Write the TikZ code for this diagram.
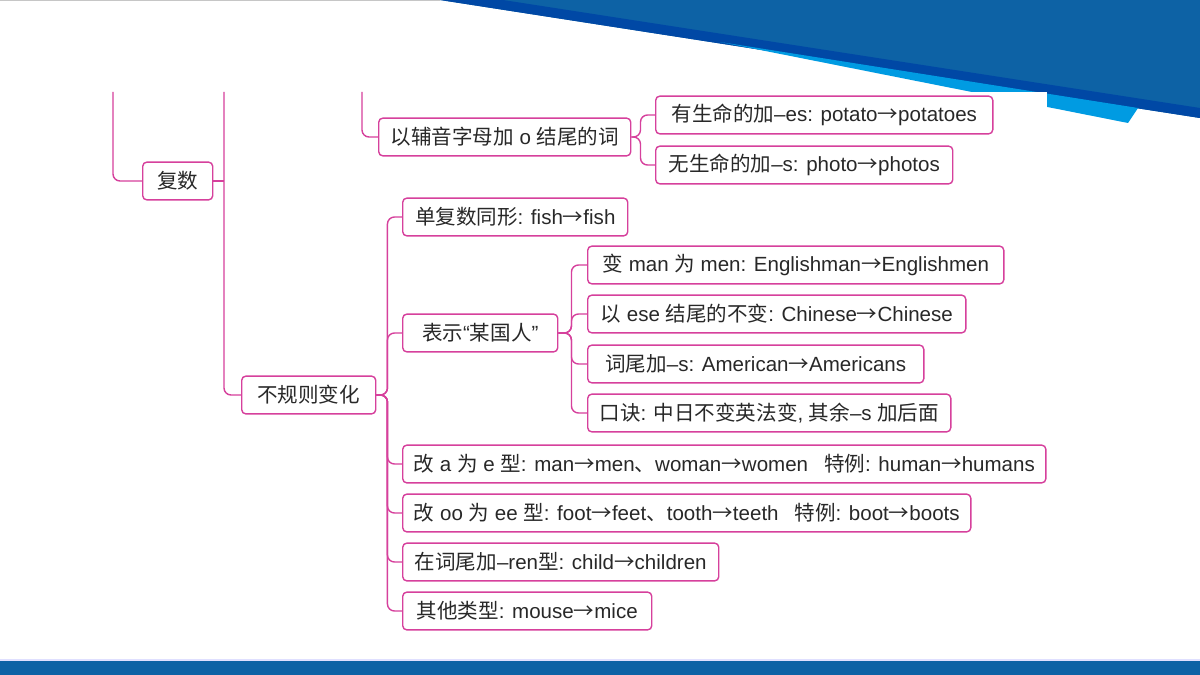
\documentclass[tikz,border=0pt]{standalone}
\usepackage{fontspec}
\setmainfont{Liberation Sans}
\newfontfamily\zh{Noto Sans CJK SC}
\newcommand\ar{{\zh →}}
\definecolor{rose}{RGB}{214,64,156}
\definecolor{deepblue}{RGB}{13,98,165}
\definecolor{stripeblue}{RGB}{0,72,165}
\definecolor{skyblue}{RGB}{0,155,226}
\definecolor{ink}{RGB}{40,40,40}
\begin{document}
\begin{tikzpicture}[x=0.025cm, y=-0.025cm,
  box/.style={draw=rose, line width=1pt, rounded corners=3pt, fill=white, anchor=west,
    text=ink, inner xsep=0pt, inner ysep=0pt, minimum height=26.9pt,
    font=\fontsize{14.6}{18}\selectfont},
  wd/.style={minimum width=#1*0.7113pt},
  link/.style={draw=rose, line width=1pt, rounded corners=5pt}]
\useasboundingbox (0,0) rectangle (1200,675);
\fill[white] (0,0) rectangle (1200,675);
\fill[deepblue] (440,0) -- (1200,0) -- (1200,118) -- cycle;
\fill[stripeblue] (440,0) -- (1200,118) -- (1200,108) -- (503,0) -- cycle;
\fill[skyblue] (720,42) -- (1138,108) -- (1128,123) -- cycle;
\fill[white] (440,92) rectangle (1047,140);
\draw[gray!45, line width=1pt] (0,0.7) -- (440,0.7);
\fill[deepblue] (0,661) rectangle (1200,675);
\draw[blue!12, line width=0.8pt] (0,660) -- (1200,660);

\node[box, wd=70] (fs) at (142,181) {\zh 复数};
\node[box, wd=252] (fuyin) at (378,137) {{\zh 以辅音字母加} o {\zh 结尾的词}};
\node[box, wd=337] (pot) at (655,115) {{\zh 有生命的加}--es: potato\ar potatoes};
\node[box, wd=297] (pho) at (655,165) {{\zh 无生命的加}--s: photo\ar photos};
\node[box, wd=134] (bgz) at (241,395) {\zh 不规则变化};
\node[box, wd=225] (fish) at (402,217) {{\zh 单复数同形}: fish\ar fish};
\node[box, wd=155] (guoren) at (402,333) {{\zh 表示}“{\zh 某国人}”};
\node[box, wd=416] (eng) at (587,265) {{\zh 变} man {\zh 为} men: Englishman\ar Englishmen};
\node[box, wd=378] (chn) at (587,314) {{\zh 以} ese {\zh 结尾的不变}: Chinese\ar Chinese};
\node[box, wd=336] (ame) at (587,364) {{\zh 词尾加}--s: American\ar Americans};
\node[box, wd=363] (kou) at (587,413) {{\zh 口诀}: {\zh 中日不变英法变}, {\zh 其余}--s {\zh 加后面}};
\node[box, wd=643] (ae) at (402,464) {{\zh 改} a {\zh 为} e {\zh 型}: man\ar men{\zh 、}woman\ar women\enspace\ {\zh 特例}: human\ar humans};
\node[box, wd=568] (oo) at (402,513) {{\zh 改} oo {\zh 为} ee {\zh 型}: foot\ar feet{\zh 、}tooth\ar teeth\enspace\ {\zh 特例}: boot\ar boots};
\node[box, wd=316] (ren) at (402,562) {{\zh 在词尾加}--ren{\zh 型}: child\ar children};
\node[box, wd=249] (mice) at (402,611) {{\zh 其他类型}: mouse\ar mice};

\coordinate (rootTop) at (113,92);
\coordinate (fsTop) at (224,92);
\coordinate (fyTop) at (362,92);
\draw[link] (rootTop) |- (fs.west);
\draw[link] (fsTop) |- (bgz.west);
\draw[link] (fs.east) -- (fs.east -| fsTop);
\draw[link] (fyTop) |- (fuyin.west);
\foreach \c in {pot,pho}
  \draw[link] (fuyin.east) -- ++(9,0) |- (\c.west);
\foreach \c in {fish,guoren,ae,oo,ren,mice}
  \draw[link] (bgz.east) -- ++(11,0) |- (\c.west);
\foreach \c in {eng,chn,ame,kou}
  \draw[link] (guoren.east) -- ++(13,0) |- (\c.west);
\end{tikzpicture}
\end{document}
